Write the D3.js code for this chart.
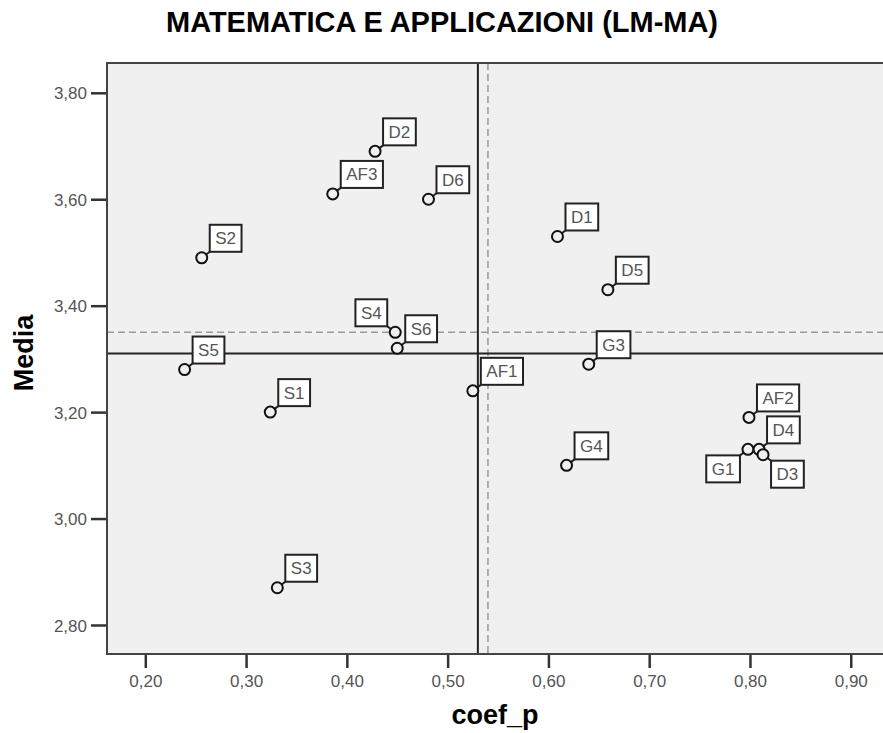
<!DOCTYPE html>
<html>
<head>
  <meta charset="utf-8">
  <title>Matematica e applicazioni</title>
  <script src="https://cdn.jsdelivr.net/npm/d3@7/dist/d3.min.js"></script>
  <style>
    body { margin: 0; background: #fff; }
    svg text { font-family: "Liberation Sans", Arial, sans-serif; }
  </style>
</head>
<body>
  <script>
    // data
    const labels = ["D2", "AF3", "D6", "S2", "S4", "S6", "S5", "S1", "S3", "AF1",
                    "D1", "D5", "G3", "AF2", "G4", "G1", "D4", "D3"];
    const coefP = [0.428, 0.386, 0.481, 0.256, 0.448, 0.450, 0.239, 0.324, 0.331, 0.525,
                   0.609, 0.659, 0.640, 0.799, 0.618, 0.798, 0.809, 0.813];
    const media = [3.69, 3.61, 3.60, 3.49, 3.35, 3.32, 3.28, 3.20, 2.87, 3.24,
                   3.53, 3.43, 3.29, 3.19, 3.10, 3.13, 3.13, 3.12];
    // where the label box sits relative to its point
    const labelPos = ["ur", "ur", "ur", "ur", "ul", "ur", "ur", "ur", "ur", "ur",
                      "ur", "ur", "ur", "ur", "ur", "ll", "ur", "lr"];

    const xTicks = [0.2, 0.3, 0.4, 0.5, 0.6, 0.7, 0.8, 0.9];
    const yTicks = [2.8, 3.0, 3.2, 3.4, 3.6, 3.8];

    // reference lines (solid = one, dashed = other)
    const vSolid = 0.53, vDashed = 0.54;
    const hSolid = 3.31, hDashed = 3.35;

    const width = 883, height = 733;
    const pLeft = 107, pRight = 883, pTop = 63, pBottom = 654;

    const svg = d3.select("body").append("svg")
      .attr("width", width)
      .attr("height", height);

    const x = d3.scaleLinear().domain([0.162, 0.932]).range([pLeft, pRight]);
    const y = d3.scaleLinear().domain([2.7455, 3.856]).range([pBottom, pTop]);

    const fmt = d => d3.format(".2f")(d).replace(".", ",");

    // plot background
    svg.append("rect")
      .attr("x", pLeft).attr("y", pTop)
      .attr("width", pRight - pLeft).attr("height", pBottom - pTop)
      .attr("fill", "#f0f0f0");

    // reference lines
    svg.append("line")
      .attr("x1", pLeft).attr("x2", pRight)
      .attr("y1", y(hDashed)).attr("y2", y(hDashed))
      .attr("stroke", "#9a9a9a").attr("stroke-width", 1.5)
      .attr("stroke-dasharray", "7,4");
    svg.append("line")
      .attr("x1", x(vDashed)).attr("x2", x(vDashed))
      .attr("y1", pTop).attr("y2", pBottom)
      .attr("stroke", "#9a9a9a").attr("stroke-width", 1.5)
      .attr("stroke-dasharray", "7,4");
    svg.append("line")
      .attr("x1", pLeft).attr("x2", pRight)
      .attr("y1", y(hSolid)).attr("y2", y(hSolid))
      .attr("stroke", "#222").attr("stroke-width", 2);
    svg.append("line")
      .attr("x1", x(vSolid)).attr("x2", x(vSolid))
      .attr("y1", pTop).attr("y2", pBottom)
      .attr("stroke", "#222").attr("stroke-width", 2);

    // frame (left, top, bottom)
    svg.append("path")
      .attr("d", `M${pRight},${pTop}H${pLeft}V${pBottom}H${pRight}`)
      .attr("fill", "none")
      .attr("stroke", "#444")
      .attr("stroke-width", 2);

    // axes
    const xAxis = svg.append("g")
      .attr("transform", `translate(0,${pBottom + 1})`)
      .call(d3.axisBottom(x).tickValues(xTicks).tickFormat(fmt).tickSize(13).tickSizeOuter(0));
    const yAxis = svg.append("g")
      .attr("transform", `translate(${pLeft - 1},0)`)
      .call(d3.axisLeft(y).tickValues(yTicks).tickFormat(fmt).tickSize(15).tickSizeOuter(0));

    [xAxis, yAxis].forEach(a => {
      a.select(".domain").remove();
      a.selectAll(".tick line").attr("stroke", "#333").attr("stroke-width", 2.5);
      a.selectAll(".tick text")
        .attr("fill", "#555")
        .style("font-size", "17px");
    });
    xAxis.selectAll(".tick text").attr("dy", "0.71em").attr("y", 20);
    yAxis.selectAll(".tick text").attr("x", -19).attr("dy", "0.36em");

    // titles
    svg.append("text")
      .attr("x", 442).attr("y", 32)
      .attr("text-anchor", "middle")
      .attr("textLength", 552)
      .attr("lengthAdjust", "spacingAndGlyphs")
      .style("font-size", "29px")
      .style("font-weight", "bold")
      .text("MATEMATICA E APPLICAZIONI (LM-MA)");

    svg.append("text")
      .attr("x", 495).attr("y", 724)
      .attr("text-anchor", "middle")
      .style("font-size", "27px")
      .style("font-weight", "bold")
      .text("coef_p");

    svg.append("text")
      .attr("transform", `translate(33,353) rotate(-90)`)
      .attr("text-anchor", "middle")
      .style("font-size", "27px")
      .style("font-weight", "bold")
      .text("Media");

    // points with labels
    const pts = labels.map((l, i) => ({ label: l, cx: coefP[i], cy: media[i], pos: labelPos[i] }));

    const boxH = 27, gapX = 8, gapY = 6;

    const g = svg.append("g").selectAll("g")
      .data(pts)
      .enter()
      .append("g");

    // label text first so the width can be measured
    const txt = g.append("text")
      .style("font-size", "17px")
      .attr("fill", "#555")
      .attr("text-anchor", "middle")
      .text(d => d.label);

    txt.each(function (d) {
      const w = this.getComputedTextLength() + 11;
      const px = x(d.cx), py = y(d.cy);
      let bx, by, cornerX, cornerY;
      if (d.pos[1] === "r") { bx = px + gapX; cornerX = bx; } else { bx = px - gapX - w; cornerX = bx + w; }
      if (d.pos[0] === "u") { by = py - gapY - boxH; cornerY = by + boxH; } else { by = py + gapY; cornerY = by; }
      d.box = { x: bx, y: by, w: w };
      d.corner = { x: cornerX, y: cornerY };
    });

    g.insert("line", "text")
      .attr("x1", d => x(d.cx)).attr("y1", d => y(d.cy))
      .attr("x2", d => d.corner.x).attr("y2", d => d.corner.y)
      .attr("stroke", "#222").attr("stroke-width", 2);

    g.insert("rect", "text")
      .attr("x", d => d.box.x).attr("y", d => d.box.y)
      .attr("width", d => d.box.w).attr("height", boxH)
      .attr("fill", "#fff")
      .attr("stroke", "#222")
      .attr("stroke-width", 2);

    txt
      .attr("x", d => d.box.x + d.box.w / 2)
      .attr("y", d => d.box.y + boxH / 2 + 6);

    g.append("circle")
      .attr("cx", d => x(d.cx))
      .attr("cy", d => y(d.cy))
      .attr("r", 5.5)
      .attr("fill", "#f0f0f0")
      .attr("stroke", "#111")
      .attr("stroke-width", 2);
  </script>
</body>
</html>
